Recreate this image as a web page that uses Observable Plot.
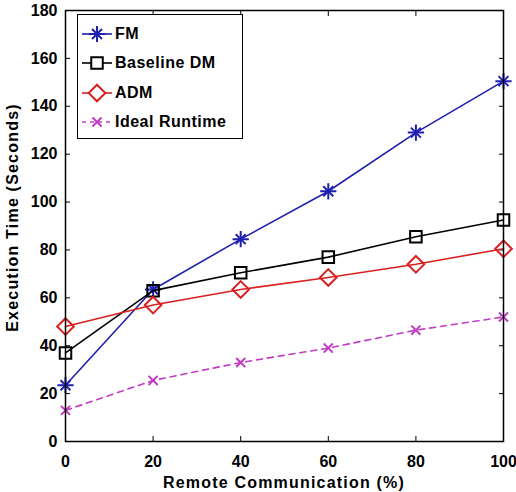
<!DOCTYPE html>
<html><head><meta charset="utf-8">
<script src="https://cdn.jsdelivr.net/npm/d3@7"></script>
<script src="https://cdn.jsdelivr.net/npm/@observablehq/plot@0.6"></script>
<style>
body{margin:0;background:#fff;}
#wrap{position:relative;width:516px;height:492px;overflow:hidden;}
#legend{position:absolute;left:77px;top:14px;width:166px;height:125px;border:1.5px solid #000;background:#fff;
 font:bold 16px "Liberation Sans",Arial,sans-serif;letter-spacing:0.5px;box-sizing:border-box;padding-top:4px;}
#legend .row{display:flex;align-items:center;height:29.5px;}
#legend svg{margin-left:3px;margin-right:2px;}
</style>
</head><body>
<div id="wrap"><div id="chart"></div><div id="legend"></div></div>
<script>
const xValues = [0, 20, 40, 60, 80, 100];
const fm = [23.5, 63.5, 84.5, 104.5, 129, 150.5];
const baselineDM = [37, 63, 70.5, 77, 85.5, 92.5];
const adm = [48, 57, 63.5, 68.5, 74, 80.5];
const ideal = [13, 25.5, 33, 39, 46.5, 52];
const xTicks = [0, 20, 40, 60, 80, 100];
const yTicks = [0, 20, 40, 60, 80, 100, 120, 140, 160, 180];

const series = [
  {name: "FM", values: fm, color: "#2020b0", symbols: ["plus", "times"], r: 4.6, dash: null},
  {name: "Baseline DM", values: baselineDM, color: "#000000", symbols: ["square"], r: 6.5, dash: null},
  {name: "ADM", values: adm, color: "#d82020", symbols: ["diamond2"], r: 7.5, dash: null},
  {name: "Ideal Runtime", values: ideal, color: "#c03cc0", symbols: ["times"], r: 4.2, dash: "6,5"}
];

const marks = [];
for (const s of series) {
  const data = xValues.map((x, i) => ({x, y: s.values[i]}));
  marks.push(Plot.line(data, {x: "x", y: "y", stroke: s.color, strokeWidth: 1.6, strokeDasharray: s.dash}));
  for (const sym of s.symbols) {
    const r = sym === "plus" ? s.r * 1.15 : s.r;
    marks.push(Plot.dot(data, {x: "x", y: "y", stroke: s.color, symbol: sym, r, strokeWidth: 2, fill: "none"}));
  }
}

const chart = Plot.plot({
  width: 516, height: 492,
  marginLeft: 65, marginRight: 13, marginTop: 10, marginBottom: 51,
  style: {fontFamily: "'Liberation Sans', Arial, sans-serif", fontWeight: "bold", fontSize: "16px", background: "white", color: "black"},
  x: {domain: [0, 100]},
  y: {domain: [0, 180]},
  marks: [
    Plot.axisX({ticks: xTicks, tickSize: -5, tickPadding: 19, label: null}),
    Plot.axisX({anchor: "top", ticks: xTicks, tickSize: -5, tickFormat: () => "", label: null}),
    Plot.axisY({ticks: yTicks, tickSize: -5, tickPadding: 13, label: null}),
    Plot.axisY({anchor: "right", ticks: yTicks, tickSize: -5, tickFormat: () => "", label: null}),
    ...marks,
    Plot.frame({stroke: "black", strokeWidth: 1.5})
  ]
});
document.getElementById("chart").appendChild(chart);

// Axis titles
const svgSel = d3.select(chart);
svgSel.append("text").text("Remote Communication (%)")
  .attr("x", (65 + 503) / 2).attr("y", 488).attr("text-anchor", "middle")
  .style("font-size", "16px").style("letter-spacing", "1.2px");
svgSel.append("text").text("Execution Time (Seconds)")
  .attr("transform", `translate(18,${(10 + 441) / 2 - 8}) rotate(-90)`).attr("text-anchor", "middle")
  .style("font-size", "16px").style("letter-spacing", "1.2px");

// Legend
const symMap = {plus: d3.symbolPlus, times: d3.symbolTimes, square: d3.symbolSquare, diamond2: d3.symbolDiamond2};
const leg = document.getElementById("legend");
for (const s of series) {
  const row = document.createElement("div");
  row.className = "row";
  const svg = d3.create("svg").attr("width", 32).attr("height", 20);
  svg.append("line").attr("x1", 1).attr("x2", 31).attr("y1", 10).attr("y2", 10)
    .attr("stroke", s.color).attr("stroke-width", 1.6).attr("stroke-dasharray", s.dash ? "4,4" : null);
  for (const sy of s.symbols) {
    const r = sy === "plus" ? s.r * 1.15 : s.r;
    const area = Math.PI * r * r;
    svg.append("path").attr("transform", "translate(16,10)").attr("d", d3.symbol(symMap[sy], area)())
      .attr("fill", sy === "square" || sy === "diamond2" ? "white" : "none").attr("stroke", s.color).attr("stroke-width", 2);
  }
  row.appendChild(svg.node());
  const t = document.createElement("span");
  t.textContent = s.name;
  row.appendChild(t);
  leg.appendChild(row);
}
</script>
</body></html>
